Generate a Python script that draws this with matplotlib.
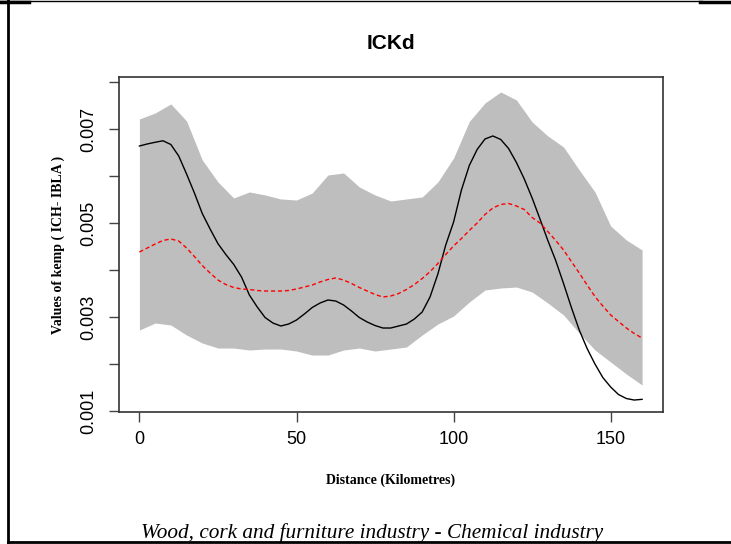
import matplotlib.pyplot as plt
from matplotlib.lines import Line2D

# distance along the route (km), fine step for the curves
dist_line = [0, 2.5, 5, 7.5, 10, 12.5, 15, 17.5, 20, 22.5, 25, 27.5, 30, 32.5, 35, 37.5,
             40, 42.5, 45, 47.5, 50, 52.5, 55, 57.5, 60, 62.5, 65, 67.5, 70, 72.5, 75, 77.5,
             80, 82.5, 85, 87.5, 90, 92.5, 95, 97.5, 100, 102.5, 105, 107.5, 110, 112.5,
             115, 117.5, 120, 122.5, 125, 127.5, 130, 132.5, 135, 137.5, 140, 142.5, 145,
             147.5, 150, 152.5, 155, 157.5, 160]

# observed kemp (black line)
kemp_obs = [0.006638, 0.006681, 0.006717, 0.006749, 0.006670, 0.006426, 0.006043, 0.005638,
            0.005202, 0.004872, 0.004560, 0.004330, 0.004120, 0.003850, 0.003468, 0.003213,
            0.002989, 0.002872, 0.002809, 0.002851, 0.002936, 0.003064, 0.003202, 0.003298,
            0.003362, 0.003340, 0.003255, 0.003128, 0.002989, 0.002894, 0.002819, 0.002766,
            0.002766, 0.002809, 0.002851, 0.002957, 0.003106, 0.003426, 0.003915, 0.004532,
            0.005021, 0.005702, 0.006223, 0.006564, 0.006787, 0.006851, 0.006777, 0.006585,
            0.006287, 0.005936, 0.005532, 0.005085, 0.004628, 0.004202, 0.003713, 0.003202,
            0.002723, 0.002330, 0.002000, 0.001713, 0.001511, 0.001351, 0.001266, 0.001234,
            0.001249]

# mean of simulations (red dashed)
kemp_mean = [0.004383, 0.004468, 0.004553, 0.004628, 0.004660, 0.004617, 0.004468, 0.004287,
             0.004096, 0.003936, 0.003787, 0.003691, 0.003628, 0.003596, 0.003585, 0.003564,
             0.003553, 0.003553, 0.003553, 0.003564, 0.003596, 0.003638, 0.003681, 0.003745,
             0.003798, 0.003830, 0.003787, 0.003713, 0.003628, 0.003553, 0.003479, 0.003426,
             0.003447, 0.003500, 0.003585, 0.003691, 0.003819, 0.003964, 0.004138, 0.004330,
             0.004511, 0.004670, 0.004840, 0.005000, 0.005181, 0.005319, 0.005394, 0.005415,
             0.005362, 0.005287, 0.005117, 0.005000, 0.004819, 0.004628, 0.004426, 0.004181,
             0.003936, 0.003681, 0.003436, 0.003234, 0.003043, 0.002904, 0.002766, 0.002649,
             0.002553]

# confidence envelope (grey band), 5 km step
dist_band = [0, 5, 10, 15, 20, 25, 30, 35, 40, 45, 50, 55, 60, 65, 70, 75, 80,
             85, 90, 95, 100, 105, 110, 115, 120, 125, 130, 135, 140, 145, 150, 155, 160]
env_upper = [0.007213, 0.007340, 0.007532, 0.007170, 0.006340, 0.005872, 0.005532,
             0.005660, 0.005596, 0.005511, 0.005489, 0.005638, 0.006021, 0.006064,
             0.005766, 0.005596, 0.005468, 0.005511, 0.005553, 0.005872, 0.006383,
             0.007160, 0.007553, 0.007787, 0.007617, 0.007149, 0.006851, 0.006617,
             0.006128, 0.005660, 0.004936, 0.004638, 0.004426]
env_lower = [0.002723, 0.002872, 0.002830, 0.002617, 0.002447, 0.002340, 0.002340,
             0.002298, 0.002319, 0.002319, 0.002277, 0.002191, 0.002191, 0.002298,
             0.002340, 0.002277, 0.002319, 0.002362, 0.002617, 0.002851, 0.003021,
             0.003319, 0.003574, 0.003617, 0.003638, 0.003532, 0.003298, 0.003043,
             0.002660, 0.002298, 0.002043, 0.001787, 0.001553]

y_ticks = [0.001, 0.002, 0.003, 0.004, 0.005, 0.006, 0.007, 0.008]
y_labels = ["0.001", "", "0.003", "", "0.005", "", "0.007", ""]
x_ticks = [0, 50, 100, 150]

fig = plt.figure(figsize=(7.31, 5.44), dpi=100)
ax = fig.add_axes([0.1628, 0.2426, 0.7435, 0.6159])

ax.fill_between(dist_band, env_lower, env_upper, color="#BEBEBE", lw=0)
ax.plot(dist_line, kemp_obs, color="black", lw=1)
ax.plot(dist_line, kemp_mean, color="red", lw=1, linestyle=(0, (3, 2)))

ax.set_xlim(-6.5, 166.5)
ax.set_ylim(0.000979, 0.008106)

ax.set_xticks(x_ticks)
ax.set_xticklabels([str(t) for t in x_ticks], fontname="Liberation Sans", fontsize=13)
ax.set_yticks(y_ticks)
ax.set_yticklabels(y_labels, fontname="Liberation Sans", fontsize=13,
                   rotation=90, va="center")
ax.tick_params(axis="both", length=7, width=1, color="#444444")
ax.tick_params(axis="x", pad=7)
ax.tick_params(axis="y", pad=9)

for sp in ax.spines.values():
    sp.set_color("#333333")
    sp.set_linewidth(1.2)

ax.set_title("ICKd", fontname="Liberation Sans", fontweight="bold", fontsize=15, pad=20)
ax.set_xlabel("Distance (Kilometres)", fontname="Liberation Serif",
              fontweight="bold", fontsize=10, labelpad=18)
ax.set_ylabel("Values of kemp ( ICH- IBLA )", fontname="Liberation Serif",
              fontweight="bold", fontsize=10, labelpad=11)

fig.text(0.509, 0.02, "Wood, cork and furniture industry - Chemical industry",
         fontname="Liberation Serif", fontstyle="italic", fontsize=15.3,
         ha="center", va="center")

# page frame lines
fig.add_artist(Line2D([0.0105, 0.0105], [0, 1], color="black", lw=2))
fig.add_artist(Line2D([0, 0.96], [0.998, 0.998], color="black", lw=1))
fig.add_artist(Line2D([0, 0.04], [0.997, 0.997], color="black", lw=2.5))
fig.add_artist(Line2D([0.958, 1], [0.997, 0.997], color="black", lw=2.5))
fig.add_artist(Line2D([0.0105, 1], [0.003, 0.003], color="black", lw=2))

fig.savefig("out.png", dpi=100)
